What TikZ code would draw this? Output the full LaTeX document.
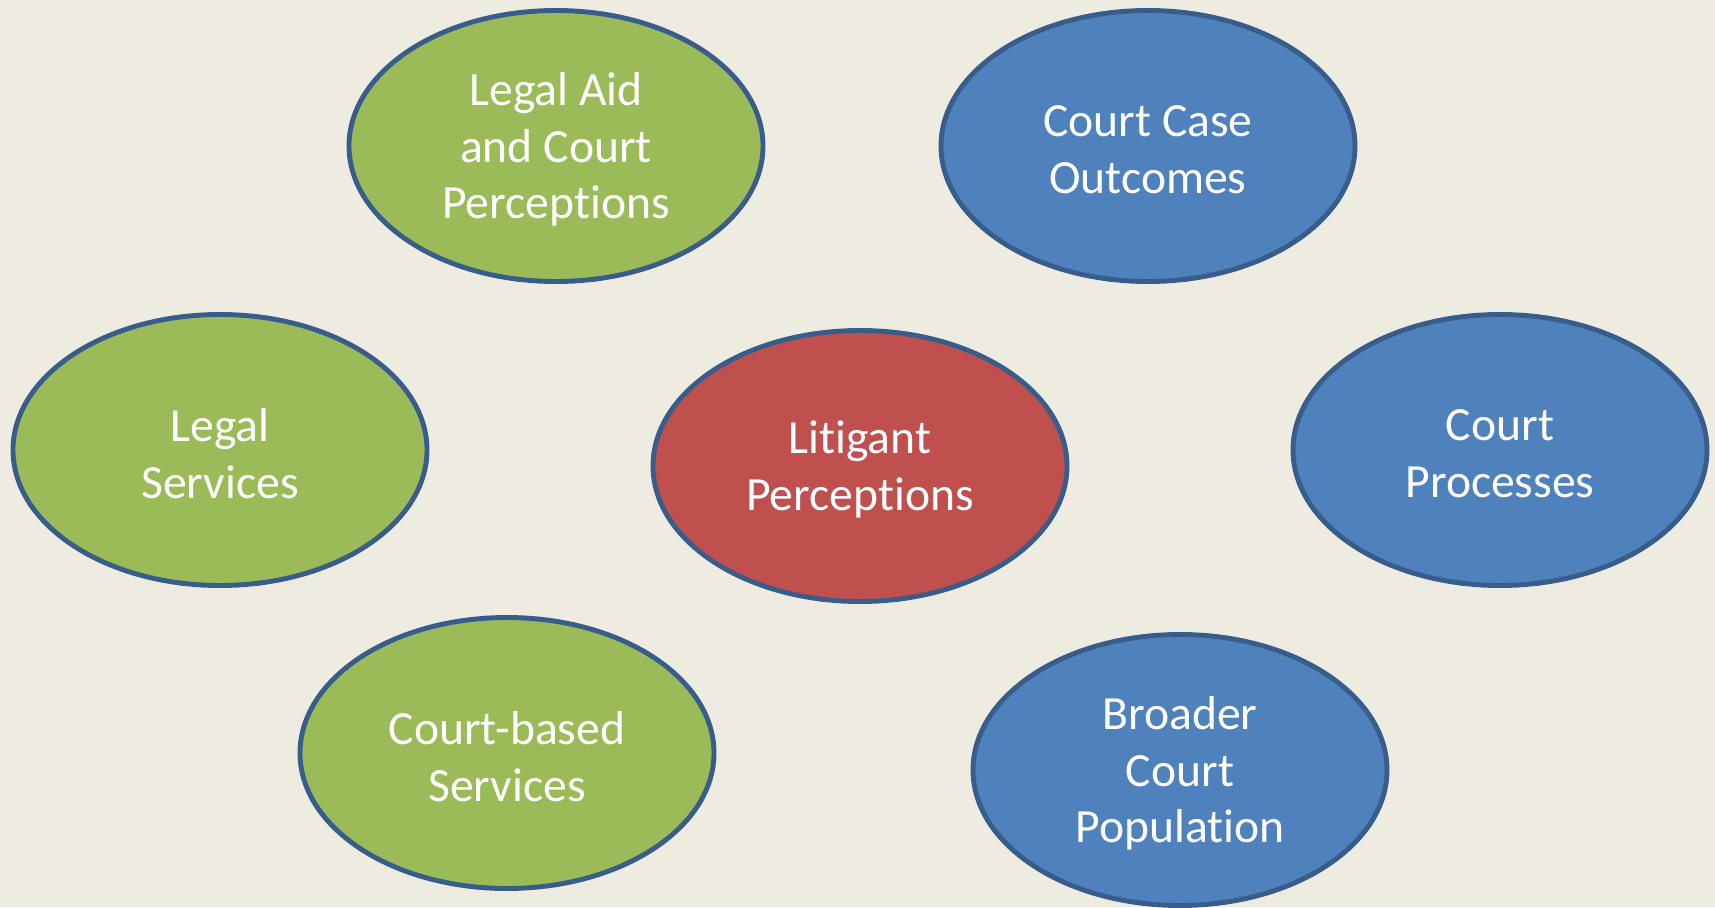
\documentclass[tikz,border=0pt]{standalone}
\usepackage{fontspec}
\setmainfont{Carlito}[Ligatures=NoCommon]
\usetikzlibrary{shapes.geometric}
\definecolor{bg}{HTML}{EEECE1}
\definecolor{gfill}{HTML}{9BBB59}
\definecolor{bfill}{HTML}{4F81BD}
\definecolor{rfill}{HTML}{C0504D}
\definecolor{edgeblue}{HTML}{385D8A}
\begin{document}
\begin{tikzpicture}[x=0.02cm,y=-0.02cm,
  bubble/.style={ellipse, draw=edgeblue, line width=2.8pt, inner sep=0pt,
    minimum width=414*0.02cm, minimum height=271*0.02cm},
  green/.style={bubble, fill=gfill},
  blue/.style={bubble, fill=bfill},
  red/.style={bubble, fill=rfill},
  lbl/.style={text=white, align=center, inner sep=0pt, font=\fontsize{27.1}{32.3}\selectfont}]
\fill[bg] (0,0) rectangle (1715,907);
\useasboundingbox (0,0) rectangle (1715,907);
\node[green] (aid) at (556,146) {};
\node[blue] (outcomes) at (1148,146) {};
\node[green] (legal) at (220,450) {};
\node[red] (litigant) at (860,466) {};
\node[blue] (processes) at (1500,450) {};
\node[green] (courtbased) at (507,753) {};
\node[blue] (broader) at (1180,770) {};
\node[lbl] (aidt) at ([yshift=-0.07cm]aid.center) {Legal Aid\\and Court\\Perceptions};
\node[lbl] (outcomest) at ([yshift=-0.07cm]outcomes.center) {Court Case\\Outcomes};
\node[lbl] (legalt) at ([yshift=-0.07cm]legal.center) {Legal\\Services};
\node[lbl] (litigantt) at ([yshift=-0.07cm]litigant.center) {Litigant\\Perceptions};
\node[lbl] (processest) at ([yshift=-0.07cm]processes.center) {Court\\Processes};
\node[lbl] (courtbasedt) at ([yshift=-0.07cm]courtbased.center) {Court-based\\Services};
\node[lbl] (broadert) at ([yshift=-0.07cm]broader.center) {Broader\\Court\\Population};
\end{tikzpicture}
\end{document}
